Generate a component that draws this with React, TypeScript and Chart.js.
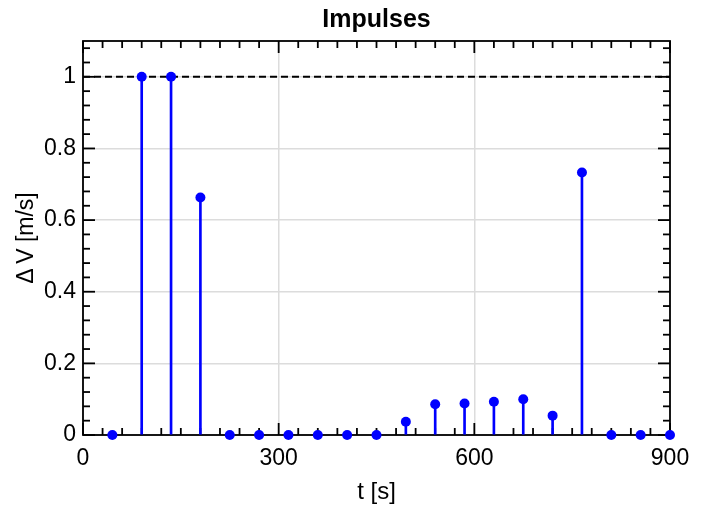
import React, { useEffect, useRef } from "react";
import { Chart, registerables } from "chart.js";

Chart.register(...registerables);

// ---- data ----
const TIMES = [45, 90, 135, 180, 225, 270, 315, 360, 405, 450, 495, 540, 585, 630, 675, 720, 765, 810, 855, 900];
const DELTA_V = [0, 1, 1, 0.663, 0, 0, 0, 0, 0, 0, 0.037, 0.086, 0.088, 0.093, 0.1, 0.054, 0.733, 0, 0, 0];
const X_TICKS = [0, 300, 600, 900];
const Y_TICKS = [0, 0.2, 0.4, 0.6, 0.8, 1];
const X_RANGE = [0, 900];
const Y_RANGE = [0, 1.1];
const X_MINOR_STEP = 30;
const Y_MINOR_STEP = 0.04;
const REFERENCE_LEVEL = 1;

const FONT = "'Liberation Sans', Arial, Helvetica, sans-serif";
const BLUE = "#0000ff";

const framePlugin = {
  id: "frameTicks",
  beforeDatasetsDraw(chart: any) {
    const { ctx, chartArea, scales } = chart;
    const { left, right, top, bottom } = chartArea;
    const x = scales.x;
    const y = scales.y;
    const MAJOR = 12;
    const MINOR = 7;
    ctx.save();
    ctx.strokeStyle = "#000";
    ctx.lineWidth = 1.8;
    ctx.lineCap = "butt";
    const seg = (x1: number, y1: number, x2: number, y2: number) => {
      ctx.beginPath();
      ctx.moveTo(x1, y1);
      ctx.lineTo(x2, y2);
      ctx.stroke();
    };
    const nx = Math.round((X_RANGE[1] - X_RANGE[0]) / X_MINOR_STEP);
    for (let i = 0; i <= nx; i++) {
      const v = X_RANGE[0] + i * X_MINOR_STEP;
      const major = X_TICKS.some((t) => Math.abs(t - v) < 1e-6);
      const len = major ? MAJOR : MINOR;
      const px = x.getPixelForValue(v);
      seg(px, bottom, px, bottom - len);
      seg(px, top, px, top + len);
    }
    const ny = Math.floor((Y_RANGE[1] - Y_RANGE[0]) / Y_MINOR_STEP + 1e-6);
    for (let i = 0; i <= ny; i++) {
      const v = Y_RANGE[0] + i * Y_MINOR_STEP;
      const major = Y_TICKS.some((t) => Math.abs(t - v) < 1e-6);
      const len = major ? MAJOR : MINOR;
      const py = y.getPixelForValue(v);
      seg(left, py, left + len, py);
      seg(right, py, right - len, py);
    }
    ctx.strokeRect(left, top, right - left, bottom - top);
    ctx.restore();
  },
};

export default function App() {
  const canvasRef = useRef<HTMLCanvasElement | null>(null);

  useEffect(() => {
    document.body.style.margin = "0";
    const canvas = canvasRef.current;
    if (!canvas) return;
    const points = TIMES.map((t, i) => ({ x: t, y: DELTA_V[i] }));
    const chart = new Chart(canvas, {
      type: "scatter",
      data: {
        datasets: [
          {
            type: "scatter",
            data: points,
            backgroundColor: BLUE,
            borderColor: BLUE,
            borderWidth: 0,
            pointRadius: 5,
            clip: false,
            order: 0,
          } as any,
          {
            type: "bar",
            data: points,
            backgroundColor: BLUE,
            borderWidth: 0,
            barThickness: 2,
            clip: false,
            order: 1,
          } as any,
          {
            type: "line",
            data: [
              { x: X_RANGE[0], y: REFERENCE_LEVEL },
              { x: X_RANGE[1], y: REFERENCE_LEVEL },
            ],
            borderColor: "#000",
            borderWidth: 2,
            borderDash: [7, 4],
            pointRadius: 0,
            fill: false,
            order: 2,
          } as any,
        ],
      },
      options: {
        animation: false,
        responsive: false,
        devicePixelRatio: 1,
        layout: { padding: { left: 0, right: 45, top: 0, bottom: 0 } },
        plugins: {
          legend: { display: false },
          tooltip: { enabled: false },
          title: {
            display: true,
            fullSize: false,
            text: "Impulses",
            color: "#000",
            font: { family: FONT, size: 25, weight: "bold" },
            padding: { top: 5, bottom: 6 },
          },
        },
        scales: {
          x: {
            type: "linear",
            min: X_RANGE[0],
            max: X_RANGE[1],
            offset: false,
            afterBuildTicks: (scale: any) => {
              scale.ticks = X_TICKS.map((v) => ({ value: v }));
            },
            afterFit: (scale: any) => {
              scale.height = 72;
            },
            grid: { color: "#dcdcdc", lineWidth: 1.5, drawTicks: false, offset: false },
            border: { display: false },
            ticks: {
              color: "#000",
              font: { family: FONT, size: 23 },
              padding: 10,
              maxRotation: 0,
              autoSkip: false,
              callback: (v: any) => String(v),
            },
            title: {
              display: true,
              text: "t [s]",
              color: "#000",
              font: { family: FONT, size: 24 },
              padding: { top: 0, bottom: 0 },
            },
          },
          y: {
            type: "linear",
            min: Y_RANGE[0],
            max: Y_RANGE[1],
            afterBuildTicks: (scale: any) => {
              scale.ticks = Y_TICKS.map((v) => ({ value: v }));
            },
            afterFit: (scale: any) => {
              scale.width = 83;
            },
            grid: { color: "#dcdcdc", lineWidth: 1.5, drawTicks: false },
            border: { display: false },
            ticks: {
              color: "#000",
              font: { family: FONT, size: 23 },
              padding: 7,
              autoSkip: false,
              callback: (v: any) => String(Math.round(Number(v) * 100) / 100),
            },
            title: {
              display: true,
              text: "Δ\u2009V [m/s]",
              color: "#000",
              font: { family: FONT, size: 23 },
              padding: { top: 13, bottom: 0 },
            },
          },
        },
      } as any,
      plugins: [framePlugin],
    });
    return () => chart.destroy();
  }, []);

  return (
    <div style={{ width: 715, height: 507 }}>
      <canvas ref={canvasRef} width={715} height={507} style={{ display: "block", width: 715, height: 507 }} />
    </div>
  );
}
